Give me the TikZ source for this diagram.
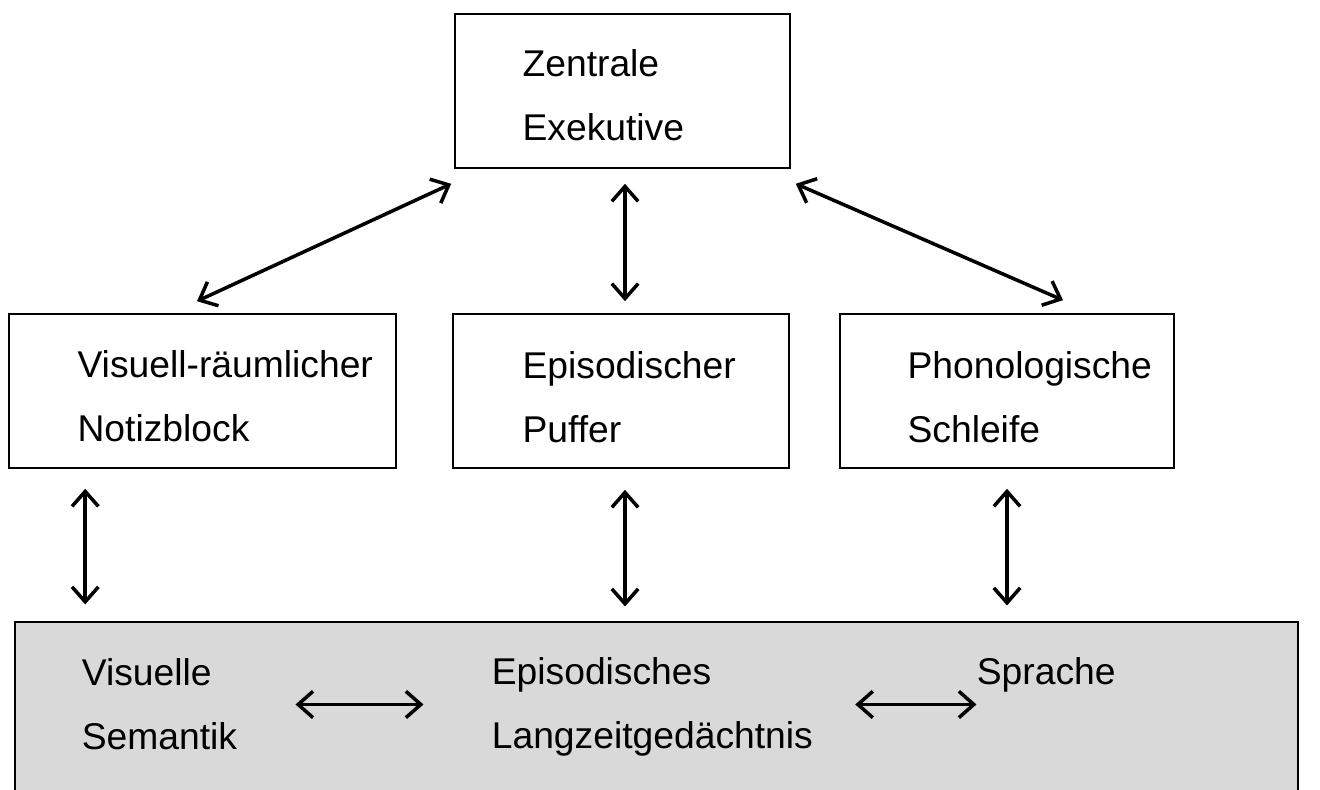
\documentclass[tikz,border=0pt]{standalone}
\usepackage{fontspec}
\setmainfont{Liberation Sans}
\usetikzlibrary{arrows.meta}
\definecolor{ltmgray}{HTML}{D9D9D9}

\begin{document}
\begin{tikzpicture}[
	box/.style={draw,line width=0.9pt,minimum height=3.08cm,inner sep=0pt},
	txt/.style={anchor=north west,inner sep=0pt,align=left,font=\fontsize{21.2}{36.4}\selectfont},
	arr/.style={line width=2pt,{Straight Barb[length=8.5pt,width=15pt]}-{Straight Barb[length=8.5pt,width=15pt]}}
	]
	\useasboundingbox (0,0) rectangle (26.4,15.8);
	
	\node[draw,line width=0.6pt,fill=ltmgray,minimum width=25.66cm,minimum height=3.56cm,inner sep=0pt] (mem) at (13.13,1.58) {};
	
	\node[box,minimum width=6.7cm] (zen) at (12.45,13.98) {};
	\node[box,minimum width=7.74cm] (vsk) at (4.05,7.98) {};
	\node[box,minimum width=6.72cm] (epi) at (12.42,7.98) {};
	\node[box,minimum width=6.68cm] (phon) at (20.14,7.98) {};
	
	\node[txt] (zent) at ([shift={(1.36,-0.72)}]zen.north west) {Zentrale\\Exekutive};
	\node[txt] (vskt) at ([shift={(1.38,-0.74)}]vsk.north west) {Visuell-räumlicher\\Notizblock};
	\node[txt] (epit) at ([shift={(1.4,-0.76)}]epi.north west) {Episodischer\\Puffer};
	\node[txt] (phont) at ([shift={(1.36,-0.76)}]phon.north west) {Phonologische\\Schleife};
	
	\node[txt] (vst) at ([shift={(1.34,-0.74)}]mem.north west) {Visuelle\\Semantik};
	\node[txt] (lzg) at ([shift={(9.54,-0.72)}]mem.north west) {Episodisches\\Langzeitgedächtnis};
	\node[txt] (spr) at ([shift={(19.24,-0.72)}]mem.north west) {Sprache};
	
	\draw[arr] ([shift={(-0.06,-0.3)}]zen.south west) -- ([shift={(-0.11,0.24)}]vsk.north);
	\draw[arr] ([shift={(0.05,-0.3)}]zen.south) -- ([shift={(0.08,0.24)}]epi.north);
	\draw[arr] ([shift={(0.1,-0.3)}]zen.south east) -- ([shift={(1.12,0.26)}]phon.north);
	
	\draw[arr] ([shift={(1.54,-0.4)}]vsk.south west) -- ([shift={(1.54,0.34)}]mem.north -| vsk.south west);
	\draw[arr] ([shift={(0.08,-0.42)}]epi.south) -- ([shift={(0.08,0.3)}]mem.north -| epi.south);
	\draw[arr] ([yshift=-0.4cm]phon.south) -- ([yshift=0.32cm]mem.north -| phon.south);
	
	\draw[arr] ([xshift=1.16cm]vst.east) -- ([xshift=-1.36cm]vst.east -| lzg.west);
	\draw[arr] ([xshift=0.84cm]lzg.east |- vst.east) -- (vst.east -| spr.west);
\end{tikzpicture}
\end{document}
